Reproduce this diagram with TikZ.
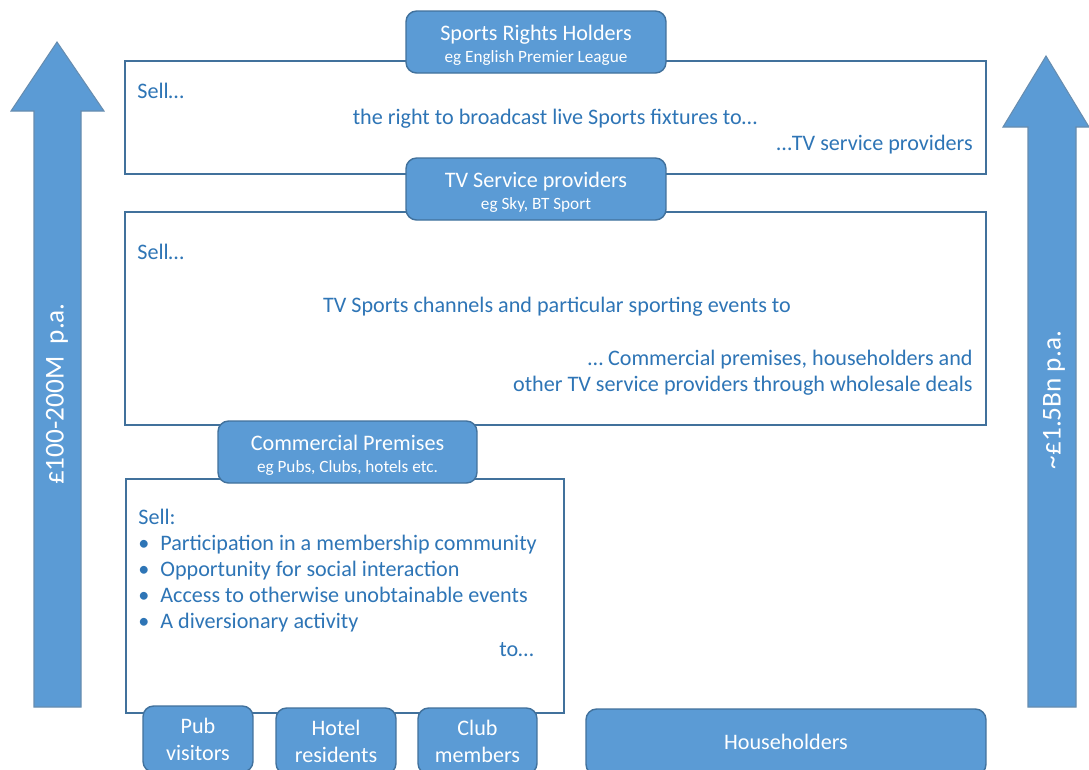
\documentclass[tikz,border=0pt]{standalone}
\usepackage{fontspec}
\setmainfont{Carlito}
\definecolor{boxblue}{HTML}{5B9BD5}
\definecolor{edgeblue}{HTML}{41719C}
\definecolor{textblue}{HTML}{2E75B6}
\tikzset{
  sellbox/.style={draw=edgeblue, line width=0.9pt, fill=white, inner sep=0pt},
  tagbox/.style={draw=edgeblue, fill=boxblue, rounded corners=6pt, line width=0.8pt,
    text=white, align=center, inner sep=0pt, font=\fontsize{12.6}{15.5}\selectfont},
  bigarrow/.style={draw=edgeblue!80, fill=boxblue, line width=0.6pt},
  bodytext/.style={text=textblue, font=\fontsize{12.6}{15}\selectfont, inner sep=0pt},
  arrowtext/.style={text=white, rotate=90, font=\fontsize{15.5}{18}\selectfont, inner sep=0pt},
}
\newcommand{\egline}[1]{{\fontsize{9.8}{11}\selectfont #1}}
\newcommand{\tagtitle}[2]{\rule{0pt}{12.3pt}#1\\[-3pt]\egline{#2}}
\begin{document}
\begin{tikzpicture}[x=0.02cm, y=-0.02cm]
        \clip (0,0) rectangle (1089,769);
        \fill [white] (0,0) rectangle (1089,769);

        % money arrows
        \draw [bigarrow] (34,707) -- (34,111) -- (11,111) -- (57,42) -- (104,111) -- (81,111) -- (81,707) -- cycle;
        \draw [bigarrow] (1028,707) -- (1028,127) -- (1003,127) -- (1046,56) -- (1089,127) -- (1076,127) -- (1076,707) -- cycle;
        \node [arrowtext] (lowflow) at (57,394) {£100-200M\ \ p.a.};
        \node [arrowtext] (highflow) at (1054,400) {\textasciitilde£1.5Bn p.a.};

        % rights holders
        \node [sellbox, minimum width=17.22cm, minimum height=2.26cm] (rights) at (555.5,117.5) {};
        \node [tagbox, minimum width=5.2cm, minimum height=1.24cm] (holders) at (536,42)
            {\tagtitle{Sports Rights Holders}{eg English Premier League}};
        \node [bodytext, anchor=base west] (sellA) at (137,98) {Sell…};
        \node [bodytext, anchor=base] (rightsA) at (555,124) {the right to broadcast live Sports fixtures to…};
        \node [bodytext, anchor=base east] (rightsB) at (973,150) {…TV service providers};

        % TV service providers
        \node [sellbox, minimum width=17.22cm, minimum height=4.26cm] (channels) at (555.5,318.5) {};
        \node [tagbox, minimum width=5.2cm, minimum height=1.24cm] (tvsp) at (536,189)
            {\tagtitle{TV Service providers}{eg Sky, BT Sport}};
        \node [bodytext, anchor=base west] (sellB) at (137,259) {Sell…};
        \node [bodytext, anchor=base] (channelsA) at (557,312) {TV Sports channels and particular sporting events to};
        \node [bodytext, anchor=base east] (channelsB) at (973,365) {… Commercial premises, householders and};
        \node [bodytext, anchor=base east] (channelsC) at (973,391) {other TV service providers through wholesale deals};

        % commercial premises
        \node [sellbox, minimum width=8.76cm, minimum height=4.68cm] (offer) at (345,596) {};
        \node [tagbox, minimum width=5.18cm, minimum height=1.24cm] (premises) at (347.5,452)
            {\tagtitle{Commercial Premises}{eg Pubs, Clubs, hotels etc.}};
        \node [bodytext, anchor=base west] (sellC) at (138,524) {Sell:};
        \foreach \txt [count=\i] in {Participation in a membership community,
                                     Opportunity for social interaction,
                                     Access to otherwise unobtainable events,
                                     A diversionary activity}{
            \node [bodytext, anchor=base west] (dot\i) at (138,524+26*\i) {•};
            \node [bodytext, anchor=base west] (item\i) at (160,524+26*\i) {\txt};
        }
        \node [bodytext, anchor=base east] (toC) at (534,656) {to…};

        % customers
        \node [tagbox, minimum width=2.2cm, minimum height=1.32cm] (pub) at (198,739) {Pub\\visitors};
        \node [tagbox, minimum width=2.4cm, minimum height=1.32cm] (hotel) at (336,741) {Hotel\\residents};
        \node [tagbox, minimum width=2.38cm, minimum height=1.32cm] (club) at (477.5,741) {Club\\members};
        \node [tagbox, minimum width=8cm, minimum height=1.32cm] (house) at (786,742) {Householders};

    \end{tikzpicture}
\end{document}
